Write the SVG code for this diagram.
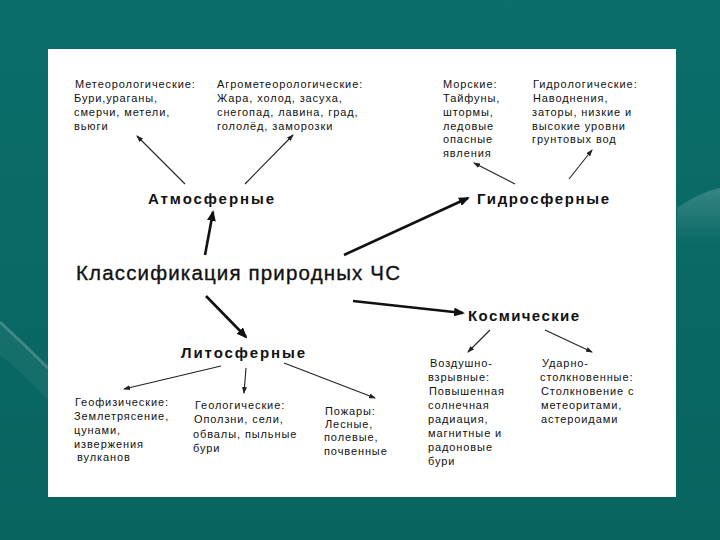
<svg xmlns="http://www.w3.org/2000/svg" width="720" height="540" viewBox="0 0 720 540">
<style>
.sm{font-family:"Liberation Sans",Arial,sans-serif;font-size:11px;letter-spacing:0.9px;fill:#111}
.bd{font-family:"Liberation Sans",Arial,sans-serif;font-size:15px;font-weight:bold;fill:#111}
.ttl{font-family:"Liberation Sans",Arial,sans-serif;font-size:20.5px;fill:#111;stroke:#111;stroke-width:0.35px}
.thick{stroke:#111;stroke-width:2.6;fill:none}
.thin{stroke:#222;stroke-width:1.1;fill:none}
</style>
<defs>
<linearGradient id="bg" x1="0" y1="0" x2="0" y2="1">
<stop offset="0" stop-color="#0b6e6a"/>
<stop offset="1" stop-color="#08645f"/>
</linearGradient>
<linearGradient id="glowR" x1="0" y1="0" x2="0" y2="1">
<stop offset="0" stop-color="#ffffff" stop-opacity="0.18"/>
<stop offset="1" stop-color="#ffffff" stop-opacity="0"/>
</linearGradient>
<marker id="hk" viewBox="0 0 11 9" refX="9" refY="4.5" markerWidth="11" markerHeight="9" markerUnits="userSpaceOnUse" orient="auto">
<path d="M0,0 L11,4.5 L0,9 z" fill="#111"/>
</marker>
<marker id="hn" viewBox="0 0 7 5" refX="6" refY="2.5" markerWidth="7" markerHeight="5" markerUnits="userSpaceOnUse" orient="auto">
<path d="M0,0 L7,2.5 L0,5 z" fill="#222"/>
</marker>
</defs>
<rect x="0" y="0" width="720" height="540" fill="url(#bg)"/>
<path d="M677,208 Q700,192 720,188 L720,245 L677,245 z" fill="url(#glowR)"/>
<path d="M0,322 Q25,345 48,368" stroke="#ffffff" stroke-opacity="0.2" stroke-width="3" fill="none"/>
<path d="M0,322 Q25,345 48,368 L48,400 Q20,370 0,355 z" fill="#ffffff" fill-opacity="0.05"/>
<rect x="48" y="49" width="628" height="448" fill="#ffffff"/>

<g id="connectors">
<line class="thick" x1="205" y1="255" x2="213" y2="212" marker-end="url(#hk)"/>
<line class="thick" x1="344" y1="255" x2="468" y2="198" marker-end="url(#hk)"/>
<line class="thick" x1="353" y1="301" x2="463" y2="313" marker-end="url(#hk)"/>
<line class="thick" x1="206" y1="296" x2="246" y2="337" marker-end="url(#hk)"/>
<line class="thin" x1="185" y1="184" x2="137" y2="136" marker-end="url(#hn)"/>
<line class="thin" x1="245" y1="184" x2="293" y2="135" marker-end="url(#hn)"/>
<line class="thin" x1="515" y1="184" x2="474" y2="163" marker-end="url(#hn)"/>
<line class="thin" x1="569" y1="179" x2="592" y2="150" marker-end="url(#hn)"/>
<line class="thin" x1="490" y1="330" x2="468" y2="352" marker-end="url(#hn)"/>
<line class="thin" x1="545" y1="330" x2="592" y2="352" marker-end="url(#hn)"/>
<line class="thin" x1="221" y1="366" x2="124" y2="389" marker-end="url(#hn)"/>
<line class="thin" x1="246" y1="368" x2="244" y2="393" marker-end="url(#hn)"/>
<line class="thin" x1="284" y1="363" x2="375" y2="398" marker-end="url(#hn)"/>
</g>

<g id="root"><text class="ttl" x="76" y="280" textLength="324" lengthAdjust="spacing">Классификация природных ЧС</text></g>
<g id="atmo"><text class="bd" x="148" y="204" textLength="126" lengthAdjust="spacing">Атмосферные</text></g>
<g id="hydro"><text class="bd" x="477" y="204" textLength="132" lengthAdjust="spacing">Гидросферные</text></g>
<g id="cosmic"><text class="bd" x="468" y="321" textLength="111" lengthAdjust="spacing">Космические</text></g>
<g id="litho"><text class="bd" x="181" y="358" textLength="124" lengthAdjust="spacing">Литосферные</text></g>

<g id="meteo"><text class="sm">
<tspan x="75" y="88">Метеорологические:</tspan>
<tspan x="74" y="102">Бури,ураганы,</tspan>
<tspan x="74" y="116">смерчи, метели,</tspan>
<tspan x="74" y="130">вьюги</tspan>
</text></g>
<g id="agro"><text class="sm">
<tspan x="217" y="88">Агрометеорологические:</tspan>
<tspan x="217" y="102">Жара, холод, засуха,</tspan>
<tspan x="217" y="116">снегопад, лавина, град,</tspan>
<tspan x="217" y="130">гололёд, заморозки</tspan>
</text></g>
<g id="sea"><text class="sm">
<tspan x="443" y="88">Морские:</tspan>
<tspan x="443" y="102">Тайфуны,</tspan>
<tspan x="443" y="116">штормы,</tspan>
<tspan x="443" y="130">ледовые</tspan>
<tspan x="443" y="143">опасные</tspan>
<tspan x="443" y="157">явления</tspan>
</text></g>
<g id="hydrol"><text class="sm">
<tspan x="533" y="88">Гидрологические:</tspan>
<tspan x="533" y="102">Наводнения,</tspan>
<tspan x="532" y="116">заторы, низкие и</tspan>
<tspan x="532" y="130">высокие уровни</tspan>
<tspan x="532" y="143">грунтовых вод</tspan>
</text></g>
<g id="geoph"><text class="sm">
<tspan x="75" y="406">Геофизические:</tspan>
<tspan x="74" y="420">Землетрясение,</tspan>
<tspan x="74" y="434">цунами,</tspan>
<tspan x="74" y="448">извержения</tspan>
<tspan x="77" y="461">вулканов</tspan>
</text></g>
<g id="geol"><text class="sm">
<tspan x="195" y="409">Геологические:</tspan>
<tspan x="194" y="423">Оползни, сели,</tspan>
<tspan x="193" y="438">обвалы, пыльные</tspan>
<tspan x="193" y="452">бури</tspan>
</text></g>
<g id="fires"><text class="sm">
<tspan x="325" y="415">Пожары:</tspan>
<tspan x="325" y="428">Лесные,</tspan>
<tspan x="324" y="441">полевые,</tspan>
<tspan x="324" y="455">почвенные</tspan>
</text></g>
<g id="airblast"><text class="sm">
<tspan x="430" y="367">Воздушно-</tspan>
<tspan x="428" y="381">взрывные:</tspan>
<tspan x="429" y="395">Повышенная</tspan>
<tspan x="428" y="409">солнечная</tspan>
<tspan x="428" y="423">радиация,</tspan>
<tspan x="428" y="437">магнитные и</tspan>
<tspan x="428" y="451">радоновые</tspan>
<tspan x="428" y="465">бури</tspan>
</text></g>
<g id="impact"><text class="sm">
<tspan x="542" y="367">Ударно-</tspan>
<tspan x="540" y="381">столкновенные:</tspan>
<tspan x="541" y="395">Столкновение с</tspan>
<tspan x="541" y="409">метеоритами,</tspan>
<tspan x="541" y="423">астероидами</tspan>
</text></g>
</svg>
